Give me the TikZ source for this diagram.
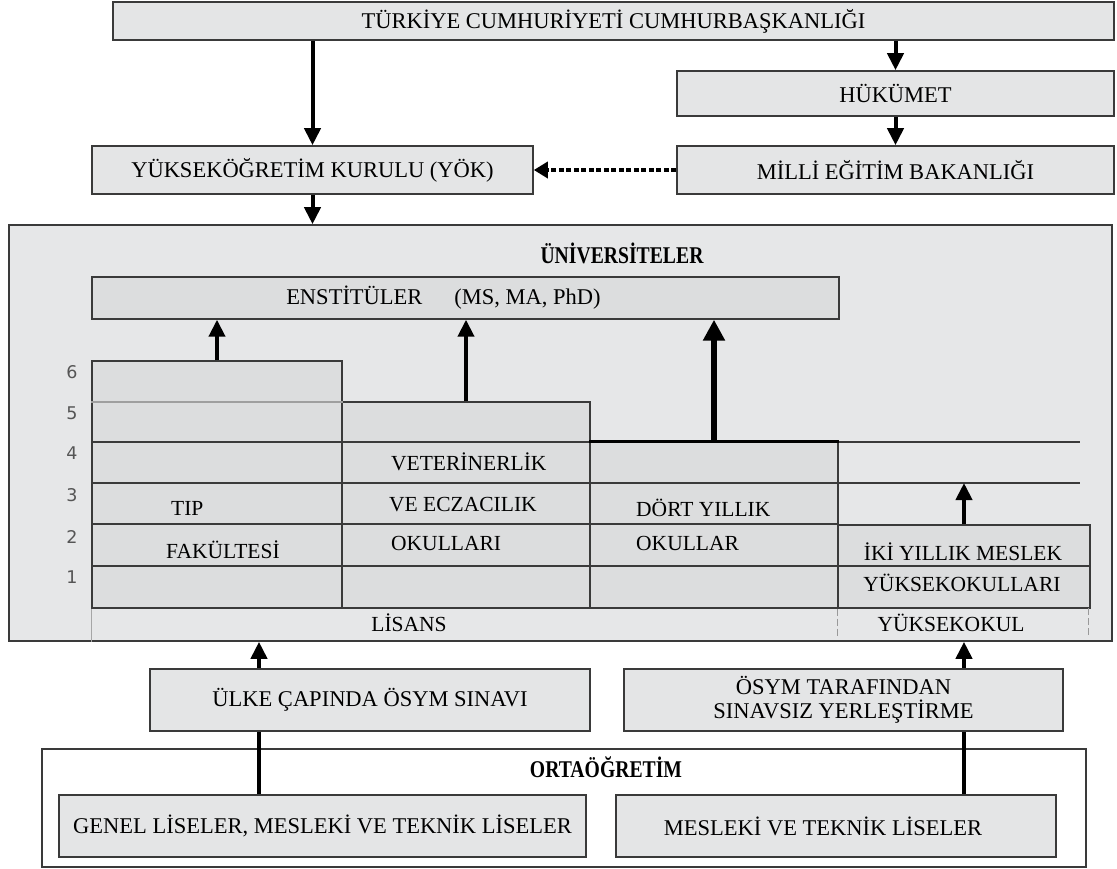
\documentclass[tikz,border=0pt]{standalone}
\usepackage{fontspec}
\setmainfont{Liberation Serif}
\newfontfamily\numfont{DejaVu Sans}
\newfontfamily\ttlfont[FakeStretch=0.82]{Liberation Serif}
\usetikzlibrary{arrows.meta}
\definecolor{boxfill}{HTML}{E4E5E6}
\definecolor{cellfill}{HTML}{DCDDDE}
\definecolor{unifill}{HTML}{E6E7E8}
\definecolor{edgec}{HTML}{3A3A3A}
\definecolor{numgray}{HTML}{555555}
\begin{document}
\begin{tikzpicture}[x=1pt,y=-1pt,
  box/.style={draw=edgec, line width=1.6pt, fill=boxfill, inner sep=0pt, align=center,
    font=\fontsize{22.5}{24}\selectfont},
  cellbox/.style={draw=edgec, line width=1.4pt, fill=cellfill, inner sep=0pt},
  txt/.style={inner sep=0pt, font=\fontsize{21.5}{24}\selectfont},
  num/.style={inner sep=0pt, text=numgray, font=\numfont\fontsize{17.5}{20}\selectfont},
  ttl/.style={inner sep=0pt, font=\ttlfont\bfseries\fontsize{24}{26}\selectfont},
  arr/.style={line width=4pt, -{Triangle[length=17pt,width=16pt]}},
  bigarr/.style={line width=5.5pt, -{Triangle[length=21pt,width=21pt]}},
  link/.style={line width=4pt},
  rowline/.style={draw=edgec, line width=1.4pt},
]
\useasboundingbox (0,0) rectangle (1117,868);

% top level
\node[box, minimum width=1001pt, minimum height=38pt] (pres) at (613.5,21) {TÜRKİYE CUMHURİYETİ CUMHURBAŞKANLIĞI};
\node[box, minimum width=437pt, minimum height=45pt] (huk) at (895.5,93.5) {HÜKÜMET};
\node[box, minimum width=437pt, minimum height=48pt] (meb) at (895.5,170) {MİLLİ EĞİTİM BAKANLIĞI};
\node[box, minimum width=441pt, minimum height=48pt] (yok) at (312.5,170) {YÜKSEKÖĞRETİM KURULU (YÖK)};

\draw[arr] (pres.south -| yok.north) -- (yok.north);
\draw[arr] (pres.south -| huk.north) -- (huk.north);
\draw[arr] (huk.south) -- (meb.north);
\draw[line width=4pt, dash pattern=on 5pt off 2.5pt, -{Triangle[length=14pt,width=16pt]}] (meb.west) -- (yok.east);

% universities
\node[draw=edgec, line width=1.6pt, fill=unifill, minimum width=1103pt, minimum height=416pt, inner sep=0pt] (univ) at (560.5,433) {};
\draw[arr] (yok.south) -- (yok.south |- univ.north);
\node[ttl] (unititle) at (622,253) {ÜNİVERSİTELER};

\node[box, fill=cellfill, line width=1.4pt, minimum width=747pt, minimum height=42pt] (enst) at (465.5,298)
  {ENSTİTÜLER\hspace{32pt}(MS, MA, PhD)\hspace*{44pt}};

\node[cellbox, minimum width=250pt, minimum height=247pt] (col1) at (217,484.5) {};
\node[cellbox, minimum width=248pt, minimum height=206pt] (col2) at (466,505) {};
\node[cellbox, minimum width=248pt, minimum height=166pt] (col3) at (714,525) {};
\node[cellbox, minimum width=252pt, minimum height=83pt] (iki) at (964,566.5) {};

% row lines
\draw[draw=gray!75, line width=1.2pt] (col1.west |- 0,402) -- (col1.east |- 0,402);
\draw[rowline] (col1.west |- 0,442) -- (col2.east |- 0,442);
\draw[rowline] (col3.east |- 0,442) -- (1080,442);
\draw[draw=black, line width=3pt] (col3.north west) -- (col3.north east);
\draw[rowline] (col1.west |- 0,483) -- (1080,483);
\draw[rowline] (col1.west |- 0,524) -- (col3.east |- 0,524);
\draw[rowline] (col1.west |- 0,566) -- (iki.east |- 0,566);

% lisans / yuksekokul strip
\draw[draw=gray!70, line width=1pt] (col1.south west) -- (col1.south west |- univ.south);
\draw[draw=gray!80, line width=1pt, dash pattern=on 7pt off 3pt] (iki.south west) -- ++(0,30);
\draw[draw=gray!80, line width=1pt, dash pattern=on 7pt off 3pt] (1088,608) -- (1088,638);
\node[txt] (lisans) at (409,623) {LİSANS};
\node[txt] (yuksekokul) at (951,623) {YÜKSEKOKUL};

% cell texts
\node[txt, anchor=west] (tip) at (171,508) {TIP};
\node[txt, anchor=west] (fak) at (166,550) {FAKÜLTESİ};
\node[txt, anchor=west] (vet) at (391,462) {VETERİNERLİK};
\node[txt, anchor=west] (ecz) at (389,505) {VE ECZACILIK};
\node[txt, anchor=west] (okl) at (391,543) {OKULLARI};
\node[txt, anchor=west] (dort) at (636,508) {DÖRT YILLIK};
\node[txt, anchor=west] (okul) at (636,543) {OKULLAR};
\node[txt] (ikiy) at (963,552) {İKİ YILLIK MESLEK};
\node[txt] (yko) at (962,583) {YÜKSEKOKULLARI};

% row numbers
\node[num] (n6) at (72,372) {6};
\node[num] (n5) at (72,413) {5};
\node[num] (n4) at (72,453) {4};
\node[num] (n3) at (72,495) {3};
\node[num] (n2) at (72,537) {2};
\node[num] (n1) at (72,577) {1};

% arrows to enstituler
\draw[arr] (col1.north) -- (col1.north |- enst.south);
\draw[arr] (col2.north) -- (col2.north |- enst.south);
\draw[bigarr] (col3.north) -- (col3.north |- enst.south);
\coordinate (r3) at (iki.north |- 0,483);
\draw[arr] (iki.north) -- (r3);

% entrance
\node[box, minimum width=440pt, minimum height=62pt] (ulke) at (370,700) {ÜLKE ÇAPINDA ÖSYM SINAVI};
\node[box, minimum width=439pt, minimum height=62pt] (osym) at (843.5,700) {ÖSYM TARAFINDAN\\SINAVSIZ YERLEŞTİRME};
\coordinate (a1) at (259,700);
\draw[arr] (a1 |- ulke.north) -- (a1 |- univ.south);
\draw[arr] (iki.north |- osym.north) -- (iki.north |- univ.south);

% secondary
\node[draw=edgec, line width=1.6pt, fill=white, minimum width=1044pt, minimum height=118pt, inner sep=0pt] (orta) at (564,808) {};
\node[ttl] (ortatitle) at (606,767) {ORTAÖĞRETİM};
\node[box, minimum width=527pt, minimum height=62pt] (genel) at (322.5,826) {GENEL LİSELER, MESLEKİ VE TEKNİK LİSELER};
\node[box, minimum width=440pt, minimum height=62pt] (mes) at (836,826) {MESLEKİ VE TEKNİK LİSELER\hspace*{26pt}};
\draw[link] (a1 |- genel.north) -- (a1 |- ulke.south);
\draw[link] (iki.north |- mes.north) -- (iki.north |- osym.south);
\end{tikzpicture}
\end{document}
